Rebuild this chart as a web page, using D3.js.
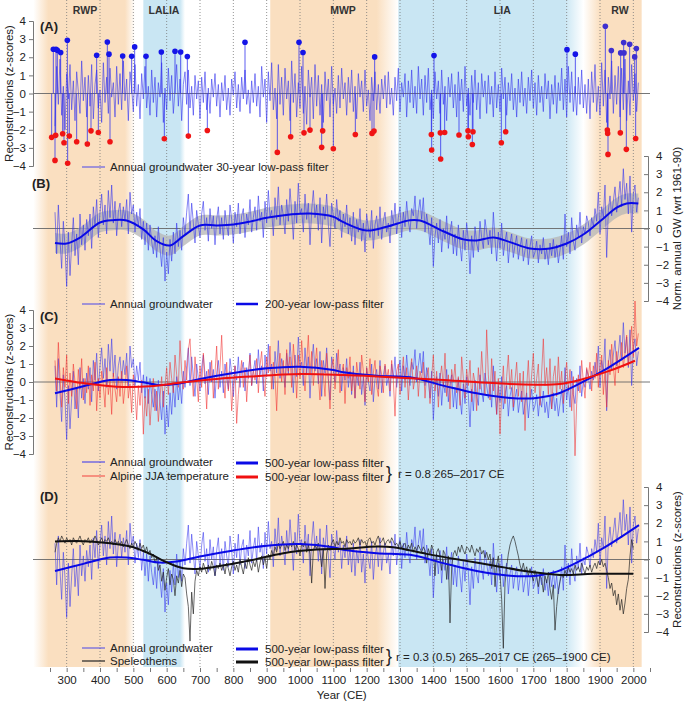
<!DOCTYPE html>
<html>
<head>
<meta charset="utf-8">
<script src="https://cdn.jsdelivr.net/npm/d3@7"></script>
<style>
body { margin: 0; background: #fff; }
svg { font-family: "Liberation Sans", Arial, sans-serif; }
</style>
</head>
<body>
<svg id="chart" width="685" height="704"></svg>
<script>
// ---- data ----
const years = d3.range(265, 2016, 5);      // annual series, sampled every 5 years
const spelYears = d3.range(265, 2001, 5);

// annual groundwater reconstruction (z-scores)
const gw = [
  [0.9, -1.4, 1.3, -0.6, -2.2, 0.4, -1.0, -3.2, -0.2, -2.6, -0.9, 0.6, -1.5, -0.3, -2.0, 0.8, -0.9, 0.2, -1.2, 0.5],
  [-0.4, 0.8, -1.1, 1.2, 0.1, 1.6, -0.5, 0.9, 1.9, 0.2, 1.3, -0.3, 2.1, 0.6, 2.4, 0.3, 1.5, -0.4, 0.9, 1.4],
  [0.1, 1.2, 0.4, 1.6, -0.3, 2.0, 0.8, 1.3, -0.2, 0.9, 0.1, 1.1, -0.6, 0.4, -0.9, 0.3, -1.2, 0.2, -0.7, -1.4],
  [-0.4, -1.6, 0.1, -1.1, -2.1, -0.5, -2.9, -1.3, -2.5, -0.6, -1.8, -0.2, -1.4, 0.3, -1.0, -0.1, -1.2, 0.6, -0.3, 0.9],
  [1.9, -0.2, 1.4, 0.3, -0.8, 1.0, 0.2, -0.5, 0.8, 1.5, -0.1, 0.6, -0.7, 1.1, 0.0, 0.7, -0.9, 0.5, 1.2, -0.3],
  [0.6, -0.6, 1.0, 0.2, -0.4, 1.3, 0.5, -0.8, 0.9, 0.1, 1.4, -0.3, 0.7, 1.1, -0.5, 0.8, 0.2, 1.6, -0.2, 0.6],
  [1.2, -0.1, 1.8, 0.4, 0.9, -0.5, 1.5, 0.3, 2.1, 0.6, 1.0, -0.4, 1.7, 0.5, 2.3, 0.2, 1.3, 0.7, -0.3, 1.6],
  [0.4, 2.2, 0.9, -0.6, 1.5, 0.3, 2.5, 0.8, 1.1, -0.2, 1.9, 0.5, 1.4, -0.9, 1.0, 2.1, 0.6, 1.3, -0.1, 1.7],
  [-0.8, 1.2, 0.5, 1.9, 0.2, -1.0, 1.4, 0.7, 0.0, 1.6, 0.4, 1.0, -0.5, 0.8, 0.1, 1.3, -0.3, 0.6, -0.7, 0.9],
  [-0.9, 0.5, -0.2, 1.1, -0.7, 0.3, -1.3, 0.8, 0.0, -0.5, 1.0, -1.1, 0.2, 0.7, -0.4, 1.2, -0.6, 0.4, 0.9, -0.2],
  [0.3, -0.8, 1.0, 0.2, 1.4, -0.3, 0.6, 1.2, -0.5, 0.9, 0.1, 1.5, 0.4, -0.2, 1.1, 0.7, 1.8, 0.0, 0.9, 1.6],
  [0.5, 1.7, -0.2, 0.8, 0.1, -0.9, 0.6, -2.1, -0.4, 0.3, -0.8, 0.5, -1.3, 0.0, -0.6, 0.7, -1.1, -0.2, 0.4, -1.4],
  [-0.3, -1.5, 0.2, -0.9, -1.8, -0.1, -1.2, 0.3, -0.7, -2.5, -0.4, -1.6, 0.1, -0.8, -1.3, 0.4, -0.5, -1.1, 0.5, -0.2],
  [-0.9, -0.1, -1.4, 0.9, -0.6, -1.8, -0.2, -1.1, 0.3, -1.5, -0.7, -0.2, -1.9, -0.8, -0.3, -1.6, -0.9, -0.4, -1.7, -1.0],
  [-0.5, -1.8, -1.2, -0.6, -2.0, -1.0, -0.4, -1.6, -1.3, -0.7, -1.9, -0.9, -1.4, -0.5, -1.7, -1.1, -2.0, -0.8, -1.5, -0.6],
  [-1.6, -0.9, -1.9, -1.2, -0.4, -1.7, 0.8, -1.0, -0.2, -1.4, 0.6, -0.7, -1.2, 0.2, -0.5, 0.9, -0.8, 0.1, -0.3, 0.7],
  [0.3, -0.4, 0.6, 0.1, 1.1, 0.4, 2.0, -0.3, 1.2, 0.6, 2.4, -1.6, 1.0, 1.8, 0.7, 1.5, 2.3, 0.9, 1.6, 2.6],
  [1.2, 3.3, 1.6, 2.5, 0.8, 2.9, -0.2, 1.9, 2.4, 0.9, 1.7]
].flat();

// groundwater after 30-year filtering (panel A)
const gwHp = [
  [-1.8, 1.5, -0.6, 1.9, -1.2, 0.4, -2.0, 1.1, -0.3, 1.6, -0.9, 0.7, -1.5, 1.2, 0.1, -1.1, 1.8, -0.4, 0.9, -1.3],
  [1.0, -0.7, 1.6, -1.4, 0.5, 1.3, -0.8, 0.2, -1.6, 1.7, -0.5, 0.9, -1.1, 1.4, -0.2, 0.6, -1.3, 1.5, -0.6, 1.1],
  [-0.9, 1.8, -0.4, 0.8, -1.5, 1.2, 0.3, -1.0, 1.6, -0.7, 0.5, -1.4, 1.1, -0.3, 1.5, -0.8, 0.4, -1.2, 1.3, -0.5],
  [0.9, -1.3, 0.6, -0.2, 1.7, -1.6, 0.3, -0.9, 1.4, -0.4, 1.0, -1.1, 0.2, 1.6, -0.7, 0.8, -1.5, 0.5, 1.2, -0.6],
  [1.3, -0.8, 0.4, -1.2, 1.0, -0.3, 0.7, -1.4, 0.9, -0.5, 1.2, -0.9, 0.3, -1.1, 0.8, -0.2, 1.1, -0.7, 0.5, -1.3],
  [0.6, -0.4, 1.0, -0.9, 0.3, -1.2, 0.8, -0.1, 1.2, -0.8, 0.5, -1.0, 0.9, -0.3, 1.3, -0.6, 0.2, -1.1, 0.7, -0.5],
  [1.1, -0.7, 0.4, -1.3, 1.5, -0.2, 0.8, -1.6, 1.2, -0.4, 1.7, -0.9, 0.3, -1.4, 1.6, -0.6, 0.9, -1.2, 1.4, -0.3],
  [0.7, -1.5, 1.8, -0.5, 1.1, -1.3, 0.6, -0.8, 1.5, -1.1, 0.4, -1.7, 1.3, -0.2, 0.9, -1.4, 1.6, -0.7, 1.0, -1.2],
  [0.5, -1.6, 1.2, -0.4, 0.8, -1.3, 1.5, -0.6, 0.3, -1.1, 1.0, -0.8, 1.4, -0.3, 0.6, -1.2, 0.9, -0.5, 1.3, -1.0],
  [0.4, -1.4, 1.1, -0.2, 0.7, -1.0, 1.3, -0.7, 0.2, -1.5, 0.9, -0.4, 1.2, -0.9, 0.5, -1.1, 0.8, -0.3, 1.0, -0.8],
  [1.2, -0.6, 0.3, -1.2, 0.9, -0.4, 1.4, -1.0, 0.6, -0.2, 1.1, -1.3, 0.7, -0.5, 1.3, -0.8, 0.4, -1.1, 1.5, -0.3],
  [0.8, -1.2, 1.0, -0.5, 1.4, -0.9, 0.2, -1.4, 1.2, -0.3, 0.7, -1.1, 1.3, -0.6, 0.4, -1.5, 0.9, -0.2, 1.1, -0.8],
  [0.5, -1.3, 1.2, -0.4, 0.8, -1.0, 1.5, -0.7, 0.3, -1.2, 1.0, -0.5, 1.3, -0.9, 0.6, -1.4, 1.1, -0.2, 0.7, -1.1],
  [1.0, -0.6, 0.4, -1.3, 1.2, -0.8, 0.5, -1.0, 1.4, -0.3, 0.9, -1.2, 0.6, -0.4, 1.1, -0.9, 0.3, -1.3, 0.8, -0.5],
  [1.2, -0.7, 0.3, -1.1, 0.9, -0.4, 1.3, -0.8, 0.6, -1.2, 1.0, -0.5, 0.4, -1.0, 1.1, -0.3, 0.7, -1.4, 0.5, -0.6],
  [1.0, -1.1, 0.6, -0.4, 1.4, -0.9, 0.8, -1.3, 1.5, -0.5, 1.2, -1.0, 0.4, -1.2, 0.9, -0.6, 1.3, -0.8, 0.5, -1.1],
  [0.8, -1.4, 1.2, -0.5, 1.6, -1.0, 0.4, -1.2, 1.7, -0.7, 1.3, -1.6, 0.9, -0.3, 1.8, -1.1, 1.0, -0.6, 1.5, -1.3],
  [1.4, -0.9, 1.9, -1.5, 0.7, -1.2, 1.6, -0.4, 1.1, -1.0, 0.6]
].flat();

// extremes in panel A
const highYears = [260, 268, 272, 282, 302, 390, 422, 427, 468, 495, 504, 538, 584, 625, 642, 662, 835, 997, 1009,
  1224, 1402, 1801, 1826, 1916, 1934, 1962, 1971, 1972, 1989, 2004, 2009];
const highVals = [2.44, 2.44, 2.38, 2.26, 2.94, 2.11, 2.84, 2.17, 2.07, 2.05, 2.57, 2.05, 2.29, 2.33, 2.29, 2.04, 2.83, 2.83, 2.26,
  2.02, 2.09, 2.42, 2.17, 3.71, 2.37, 2.24, 2.81, 2.24, 2.72, 2.02, 2.48];
const lowYears = [255, 265, 267, 288, 292, 303, 308, 330, 362, 373, 395, 430, 593, 665, 722, 932, 972, 1012, 1030, 1065, 1068, 1100,
  1166, 1216, 1222, 1394, 1395, 1421, 1422, 1434, 1477, 1504, 1505, 1517, 1519, 1604, 1617, 1922, 1923, 1924, 1961, 1979, 2007];
const lowVals = [-2.42, -3.69, -2.31, -2.22, -2.72, -3.85, -2.35, -2.66, -2.79, -2.06, -2.15, -2.66, -2.5, -2.35, -2.04, -3.25, -2.39, -2.17, -2.02, -2.97, -2.06, -3.05,
  -2.26, -2.2, -2.07, -2.26, -3.12, -2.17, -3.61, -2.15, -2.29, -2.06, -2.39, -2.81, -2.11, -2.72, -2.11, -2.02, -2.2, -3.36, -2.17, -3.08, -2.48];

// Alpine JJA temperature (z-scores)
const temp = [
  [1.2, -0.5, 2.2, 0.3, -1.4, 0.8, -0.3, 1.5, -1.2, 0.5, -0.8, 1.0, 0.0, -1.5, 0.7, -0.4, 1.3, -1.0, 0.2, -0.6],
  [0.9, -1.3, 0.4, -0.5, 1.1, -1.6, 0.2, -0.9, 0.6, -0.2, -1.4, 0.8, -0.7, 0.1, -1.8, 0.5, -0.4, -1.1, 0.3, -0.8],
  [0.6, -1.2, -0.3, 0.9, -0.9, -0.1, -1.7, 0.4, -0.6, -2.1, -0.2, -1.3, 0.1, -2.9, -0.8, -1.9, -0.4, -2.4, -1.0, 0.2],
  [-1.6, -0.5, -2.2, -0.9, 0.3, -1.4, -0.2, 0.8, -0.7, 1.1, 0.2, -0.6, 1.5, 0.4, -0.3, 2.3, 0.6, -0.4, 1.2, 0.1],
  [1.8, 2.4, 0.5, -0.8, 1.4, 0.2, -1.1, 0.9, -0.3, 1.6, 0.4, -1.5, 0.7, 0.0, 1.2, -0.9, 0.5, 2.0, -0.4, 0.8],
  [2.6, 0.3, -0.9, 1.1, -0.5, 0.6, -1.6, -0.2, 0.9, -2.3, -0.7, 0.4, 1.2, -0.3, 0.8, -1.1, 0.5, 1.5, -0.2, 0.7],
  [0.1, 1.3, -0.6, 0.9, 1.7, 0.2, -0.8, 1.4, 0.5, 2.0, -0.4, 1.1, 0.3, -1.6, 0.8, 1.6, 0.0, 1.2, -0.7, 1.8],
  [0.6, 1.4, -0.3, 2.1, 0.9, -0.9, 1.5, 0.2, 2.3, 0.7, -0.5, 1.1, 2.6, 0.4, 1.7, -0.2, 0.9, 1.9, 0.3, -1.0],
  [1.2, 0.4, -0.8, 1.6, 0.1, -1.5, 0.9, 1.3, -0.4, 0.7, 1.8, -0.6, 0.5, 1.0, -1.2, 0.8, 0.2, 1.4, -0.5, 0.6],
  [-0.9, 1.1, 0.3, -0.4, 1.5, 0.6, -1.1, 0.8, 0.0, 1.3, -0.7, 0.5, 1.2, -0.2, -0.8, 0.9, 0.4, -0.6, 1.0, 0.2],
  [0.7, -0.5, 1.2, 0.1, -1.9, 0.6, 1.0, -0.7, 0.3, 1.4, -0.3, 0.8, -1.0, 0.5, 1.3, -0.4, 0.2, 0.9, -0.8, 0.6],
  [0.1, 1.1, -0.9, 0.4, 0.8, -1.2, 0.3, 1.5, -0.5, 0.6, -1.4, 0.2, 0.9, -0.3, 1.6, -0.8, 0.4, -1.5, 0.7, 0.0],
  [1.0, -0.6, 0.3, -1.3, 1.4, 0.2, -0.9, 0.7, -0.2, 1.2, -1.1, 0.5, 0.0, -1.6, 0.8, -0.4, 1.7, 0.1, -0.7, 2.9],
  [0.4, -1.0, 1.3, -0.5, 0.6, -1.8, 0.2, -2.9, -0.6, 0.9, -1.2, 0.3, 1.5, -0.4, 0.7, -1.4, 0.1, 1.1, -0.8, 0.5],
  [-1.1, 0.6, -2.7, -0.3, 1.2, -0.9, 0.4, 1.6, -0.6, 0.2, 1.0, -1.3, 0.5, 2.4, -0.2, 0.8, -0.7, 1.3, -1.5, 0.3],
  [0.9, -0.8, 1.4, -0.4, 0.6, -1.2, 0.2, 1.1, -0.5, 0.7, -1.6, 0.3, -4.1, -1.2, 0.4, -0.6, 1.2, 0.0, -0.9, 0.8],
  [0.3, 1.1, -0.5, 0.9, 0.2, 1.6, -0.3, 0.8, 1.5, -0.7, 0.6, -1.4, 1.2, 0.4, 2.1, 0.9, -0.2, 1.7, 0.5, 1.3],
  [2.2, 0.8, 1.6, 2.6, 0.9, 1.9, 3.1, 1.4, 4.5, 2.0, 2.7]
].flat();

// speleothem record (z-scores)
const spel = [
  [0.4, 0.9, 1.2, 1.0, 1.3, 1.1, 0.9, 1.2, 1.0, 1.1, 0.8, 1.2, 1.0, 0.9, 1.1, 1.3, 1.0, 0.8, 1.1, 1.0],
  [1.2, 0.9, 1.1, 1.0, 1.3, 1.1, 0.8, 1.0, 1.2, 0.9, 1.1, 1.0, 1.2, 0.9, 1.0, 0.8, 1.1, 0.9, 1.0, 0.8],
  [1.0, 0.7, 0.9, 1.1, 0.8, 0.6, 0.9, 0.7, 1.0, 0.8, 0.5, 0.9, 0.6, 0.8, 0.4, 0.7, 0.3, 0.5, 0.1, 0.3],
  [-0.2, 0.1, -0.6, -0.3, -1.2, -0.7, -1.7, -1.0, -0.5, -1.4, -0.8, -1.1, -2.0, -0.9, -1.3, -0.6, -1.5, -0.8, -1.0, -1.9],
  [-2.6, -4.5, -1.8, -3.0, -1.2, -0.6, -0.9, -0.4, -0.7, -0.2, -0.5, -0.8, -0.3, -0.6, -0.1, -0.4, -0.9, -0.3, -0.5, -0.2],
  [-0.6, -0.3, -0.8, -0.2, -0.5, -0.9, -0.4, -0.1, -0.6, -0.3, -0.7, 0.0, -0.4, -0.8, -0.2, -0.5, 0.1, -0.3, -0.6, -0.1],
  [-0.4, 0.0, -0.7, -0.2, 0.2, -0.3, 0.1, -0.5, 0.3, 0.0, 0.5, 0.2, 0.7, 0.4, 0.9, 0.6, 0.8, 1.0, 0.5, 0.8],
  [0.6, 0.9, 0.7, 1.0, 0.5, 0.8, 0.6, 0.2, 0.9, 0.7, 1.0, 0.4, 0.8, 0.3, -1.3, 0.5, 0.8, 0.6, 0.9, 0.4],
  [-0.4, 0.6, -1.6, 0.3, 0.8, 0.5, 0.9, 1.1, 0.7, 1.0, 0.8, 1.2, 0.9, 1.0, 0.7, 1.1, 0.9, 1.0, 0.8, 1.1],
  [0.9, 1.0, 1.2, 0.8, 1.1, 0.9, 1.0, 0.7, 1.1, 1.2, 0.9, 1.0, 0.8, 1.1, 1.3, 0.9, 1.0, 1.2, 0.8, 1.0],
  [1.1, 0.9, 1.2, 1.0, 0.8, 0.9, 0.7, 1.0, 0.6, 0.8, 0.9, 0.5, 0.8, 0.6, 0.9, 0.4, 0.7, 0.5, 0.8, 0.6],
  [0.4, 0.7, 0.5, -0.2, 0.6, 0.3, 0.8, 0.5, -0.9, 0.4, 0.6, 0.2, -0.6, 0.5, 0.3, -1.1, 0.2, -3.5, -0.4, 0.3],
  [0.5, 0.2, 0.7, 0.4, 0.8, 0.5, 0.3, 0.7, 0.6, 0.4, 0.8, 0.5, 0.2, 0.6, 0.4, 0.7, 0.3, 0.5, 0.1, 0.4],
  [0.0, 0.3, -0.5, 0.1, -1.5, -0.3, 0.2, -0.8, -2.2, -4.9, -1.3, -0.4, 0.3, 0.8, 1.1, 1.3, 1.0, 0.6, 0.2, -0.3],
  [-0.6, -0.2, -0.7, -0.4, -0.9, -0.5, -0.8, -1.2, -0.6, -1.0, -1.5, -0.8, -1.1, -1.8, -0.9, -1.3, -0.7, -1.6, -2.2, -1.4],
  [-3.9, -2.6, -1.7, -1.2, -0.8, -1.0, -0.6, -0.9, -0.4, -0.7, -0.5, -0.8, -0.3, -0.6, -0.4, -0.7, -0.2, -0.5, -0.8, -0.4],
  [-0.6, -0.3, -0.7, -0.4, -0.2, -0.5, -0.1, -0.3, 0.0, -0.4, -0.2, -0.6, -1.0, -1.6, -1.3, -2.0, -1.7, -2.5, -1.9, -2.8],
  [-2.2, -3.0, -2.4, -1.6, -1.1, 0.2, 1.1, 0.6]
].flat();

// low-pass filtered curves
const f200Years = [265, 300, 340, 400, 440, 480, 530, 570, 610, 650, 700, 750, 800, 850, 900, 970, 1030, 1100, 1130, 1200, 1260, 1330, 1360, 1430, 1490, 1530, 1580, 1630, 1690, 1750, 1800, 1850, 1900, 1950, 1980, 2015];
const f200Vals = [-0.8, -0.83, -0.5, 0.33, 0.46, 0.44, -0.05, -0.7, -0.94, -0.42, 0.17, 0.17, 0.22, 0.38, 0.59, 0.77, 0.83, 0.65, 0.35, -0.11, 0.1, 0.46, 0.44, -0.15, -0.6, -0.66, -0.5, -0.75, -1.1, -1.1, -0.83, -0.33, 0.4, 1.15, 1.38, 1.38];
const f200Band = 0.55;

const gw500Years = [265, 350, 430, 480, 530, 580, 630, 700, 800, 900, 1000, 1100, 1130, 1230, 1330, 1430, 1530, 1630, 1710, 1770, 1830, 1910, 2017];
const gw500Vals = [-0.63, -0.24, 0.11, 0.11, -0.02, -0.17, -0.11, 0.17, 0.5, 0.76, 0.85, 0.67, 0.54, 0.35, 0.26, -0.2, -0.63, -0.89, -0.89, -0.67, -0.17, 0.63, 1.9];

const temp500Years = [265, 350, 450, 550, 650, 750, 850, 1000, 1130, 1230, 1430, 1630, 1780, 1850, 1930, 2005];
const temp500Vals = [0.2, -0.06, -0.26, -0.24, -0.02, 0.17, 0.3, 0.44, 0.39, 0.31, 0.11, -0.11, -0.11, 0.17, 0.63, 1.18];

const spel500Years = [265, 350, 430, 500, 550, 600, 650, 700, 750, 850, 950, 1050, 1130, 1230, 1280, 1380, 1480, 1580, 1680, 1780, 1880, 2000];
const spel500Vals = [0.99, 1.01, 0.9, 0.68, 0.31, -0.15, -0.48, -0.51, -0.39, -0.06, 0.35, 0.55, 0.59, 0.72, 0.68, 0.31, -0.02, -0.33, -0.65, -0.85, -0.79, -0.79];

// climate periods: fade-in start, full start, full end, fade-out end (years)
const periodNames = ['RWP', 'LALIA', 'MWP', 'LIA', 'RW'];
const periodKinds = ['warm', 'cold', 'warm', 'cold', 'warm'];
const periodEdges = [[200, 245, 475, 505], [530, 530, 640, 655], [910, 912, 1230, 1295], [1295, 1295, 1795, 1850], [1850, 1900, 2025, 2025]];
const periodLabelYears = [355, 592, 1129, 1607, 1960];

const yTicks = [-4, -3, -2, -1, 0, 1, 2, 3, 4];

// ---- chart ----
const svg = d3.select('#chart');
const x = d3.scaleLinear().domain([250, 2050]).range([50, 650]);
const yA = d3.scaleLinear().domain([-4, 4]).range([166, 21]);
const yB = d3.scaleLinear().domain([-4, 4]).range([301, 156]);
const yC = d3.scaleLinear().domain([-4, 4]).range([454, 310]);
const yD = d3.scaleLinear().domain([-4, 4]).range([632, 487]);

const bandColor = { warm: '#fadfc0', cold: '#c9e6f3' };
const defs = svg.append('defs');

periodNames.forEach((name, i) => {
    const [a, b, c, d] = periodEdges[i];
    const grad = defs.append('linearGradient').attr('id', 'band' + i)
        .attr('x1', '0%').attr('x2', '100%').attr('y1', '0%').attr('y2', '0%');
    [[a, 0], [b, 1], [c, 1], [d, 0]].forEach(([yr, op], k) => {
        grad.append('stop')
            .attr('offset', (yr - a) / (d - a))
            .attr('stop-color', bandColor[periodKinds[i]])
            .attr('stop-opacity', (k === 0 && a === b) || (k === 3 && c === d) ? 1 : op);
    });
    svg.append('rect')
        .attr('x', x(a)).attr('y', 0)
        .attr('width', x(d) - x(a)).attr('height', 667)
        .attr('fill', `url(#band${i})`);
});

// century grid
svg.append('g')
    .selectAll('line')
    .data(d3.range(300, 2001, 100))
    .enter()
    .append('line')
    .attr('x1', d => x(d)).attr('x2', d => x(d))
    .attr('y1', 0).attr('y2', 667)
    .attr('stroke', '#777')
    .attr('stroke-width', 0.8)
    .attr('stroke-dasharray', '1,2');

// period labels
svg.append('g')
    .selectAll('text')
    .data(periodNames)
    .enter()
    .append('text')
    .attr('x', (d, i) => x(periodLabelYears[i]))
    .attr('y', 14)
    .attr('text-anchor', 'middle')
    .style('font-size', '10.5px')
    .style('font-weight', 'bold')
    .attr('fill', '#333')
    .text(d => d);

// zero lines
[yA, yB, yC, yD].forEach(y => {
    svg.append('line')
        .attr('x1', 33).attr('x2', 650)
        .attr('y1', y(0)).attr('y2', y(0))
        .attr('stroke', '#666').attr('stroke-width', 0.9);
});

const pts = (xs, vs) => vs.map((v, i) => [xs[i], v]);
const lineOn = (y, curve) => d3.line().x(d => x(d[0])).y(d => y(d[1])).curve(curve || d3.curveLinear);

function drawPath(data, y, color, width, opacity, curve) {
    svg.append('path')
        .datum(data)
        .attr('fill', 'none')
        .attr('stroke', color)
        .attr('stroke-width', width)
        .attr('stroke-opacity', opacity)
        .attr('stroke-linejoin', 'round')
        .attr('d', lineOn(y, curve));
}

const noisyBlue = '#3434ee';
const filtBlue = '#0a0ae6';

// (A)
drawPath(pts(years, gwHp), yA, noisyBlue, 0.8, 0.75);
const stems = svg.append('g');
stems.selectAll('line.hi')
    .data(highYears)
    .enter().append('line')
    .attr('x1', d => x(d)).attr('x2', d => x(d))
    .attr('y1', yA(0)).attr('y2', (d, i) => yA(highVals[i]))
    .attr('stroke', noisyBlue).attr('stroke-width', 1).attr('stroke-opacity', 0.8);
stems.selectAll('line.lo')
    .data(lowYears)
    .enter().append('line')
    .attr('x1', d => x(d)).attr('x2', d => x(d))
    .attr('y1', yA(0)).attr('y2', (d, i) => yA(lowVals[i]))
    .attr('stroke', noisyBlue).attr('stroke-width', 1).attr('stroke-opacity', 0.8);
stems.selectAll('circle.hi')
    .data(highYears)
    .enter().append('circle')
    .attr('cx', d => x(d)).attr('cy', (d, i) => yA(highVals[i]))
    .attr('r', 2.8)
    .attr('fill', d => d > 1900 ? '#3d2fd0' : '#1414e8');
stems.selectAll('circle.lo')
    .data(lowYears)
    .enter().append('circle')
    .attr('cx', d => x(d)).attr('cy', (d, i) => yA(lowVals[i]))
    .attr('r', 2.8)
    .attr('fill', '#f01414');

// (B)
svg.append('path')
    .datum(pts(f200Years, f200Vals))
    .attr('fill', '#b4b4b4')
    .attr('fill-opacity', 0.75)
    .attr('d', d3.area().x(d => x(d[0])).y0(d => yB(d[1] - f200Band)).y1(d => yB(d[1] + f200Band)).curve(d3.curveCatmullRom));
drawPath(pts(years, gw), yB, noisyBlue, 0.8, 0.75);
drawPath(pts(f200Years, f200Vals), yB, filtBlue, 2, 1, d3.curveCatmullRom);

// (C)
drawPath(pts(years, gw), yC, noisyBlue, 0.8, 0.7);
drawPath(pts(years, temp), yC, '#f03030', 0.8, 0.7);
drawPath(pts(gw500Years, gw500Vals), yC, filtBlue, 2, 1, d3.curveCatmullRom);
drawPath(pts(temp500Years, temp500Vals), yC, '#f01010', 2, 1, d3.curveCatmullRom);

// (D)
drawPath(pts(years, gw), yD, noisyBlue, 0.8, 0.7);
drawPath(pts(spelYears, spel), yD, '#222', 0.8, 0.85);
drawPath(pts(gw500Years, gw500Vals), yD, filtBlue, 2, 1, d3.curveCatmullRom);
drawPath(pts(spel500Years, spel500Vals), yD, '#111', 2, 1, d3.curveCatmullRom);

// axes
function styleAxis(g) {
    g.selectAll('path, line').attr('stroke', '#777');
    g.selectAll('text').style('font-size', '11.5px').attr('fill', '#222');
}
[yA, yC].forEach(y => {
    svg.append('g')
        .attr('transform', 'translate(33,0)')
        .call(d3.axisLeft(y).tickValues(yTicks).tickSize(4).tickPadding(3).tickFormat(d3.format('d')))
        .call(styleAxis);
});
[yB, yD].forEach(y => {
    svg.append('g')
        .attr('transform', 'translate(648,0)')
        .call(d3.axisRight(y).tickValues(yTicks).tickSizeInner(-4).tickSizeOuter(-4).tickPadding(8).tickFormat(d3.format('d')))
        .call(styleAxis);
});

const xAxis = svg.append('g')
    .attr('transform', 'translate(0,668)')
    .call(d3.axisBottom(x).tickValues(d3.range(250, 2051, 50)).tickSize(4).tickPadding(4)
        .tickFormat(d => (d % 100 === 0 && d >= 300 && d <= 2000) ? d : ''))
    .call(styleAxis);
xAxis.select('.domain').remove();

function addText(tx, ty, str, opts) {
    const t = svg.append('text').attr('x', tx).attr('y', ty).text(str)
        .attr('fill', '#222').style('font-size', (opts && opts.size) || '11.5px');
    if (opts && opts.bold) t.style('font-weight', 'bold');
    if (opts && opts.anchor) t.attr('text-anchor', opts.anchor);
    if (opts && opts.rotate) t.attr('transform', `rotate(-90,${tx},${ty})`);
    return t;
}

addText(x(1125), 699, 'Year (CE)', { anchor: 'middle', size: '11.5px' });
addText(13, yA(0), 'Reconstructions (z-scores)', { anchor: 'middle', rotate: true, size: '11.5px' });
addText(13, yC(0), 'Reconstructions (z-scores)', { anchor: 'middle', rotate: true, size: '11.5px' });
addText(681, yB(0), 'Norm. annual GW (wrt 1961-90)', { anchor: 'middle', rotate: true, size: '11.5px' });
addText(681, yD(0), 'Reconstructions (z-scores)', { anchor: 'middle', rotate: true, size: '11.5px' });

addText(40, 31, '(A)', { bold: true, size: '13px' });
addText(32, 188, '(B)', { bold: true, size: '13px' });
addText(40, 321, '(C)', { bold: true, size: '13px' });
addText(40, 501, '(D)', { bold: true, size: '13px' });

// legends
function legLine(x1, x2, yy, color, width, opacity) {
    svg.append('line').attr('x1', x1).attr('x2', x2).attr('y1', yy).attr('y2', yy)
        .attr('stroke', color).attr('stroke-width', width).attr('stroke-opacity', opacity);
}
legLine(82, 105, 167, noisyBlue, 1.2, 0.75);
addText(110, 171, 'Annual groundwater  30-year low-pass filter');

legLine(82, 105, 304, noisyBlue, 1.2, 0.75);
addText(110, 308, 'Annual groundwater');
legLine(236, 258, 304, filtBlue, 2.5, 1);
addText(265, 308, '200-year low-pass filter');

legLine(82, 105, 462, noisyBlue, 1.2, 0.85);
addText(110, 466, 'Annual groundwater');
legLine(82, 105, 476, '#f03030', 1.2, 0.75);
addText(110, 480, 'Alpine JJA temperature');
legLine(236, 258, 463, filtBlue, 3, 1);
addText(265, 467, '500-year low-pass filter');
legLine(236, 258, 477, '#f01010', 3, 1);
addText(265, 481, '500-year low-pass filter');
addText(386, 479, '}', { size: '18px' });
addText(398, 478, 'r = 0.8  265\u20132017 CE');

legLine(82, 105, 648, noisyBlue, 1.2, 0.75);
addText(110, 652, 'Annual groundwater');
legLine(82, 105, 661, '#222', 1.2, 1);
addText(110, 665, 'Speleothems');
legLine(236, 258, 649, filtBlue, 3, 1);
addText(265, 653, '500-year low-pass filter');
legLine(236, 258, 662, '#111', 3, 1);
addText(265, 666, '500-year low-pass filter');
addText(386, 662, '}', { size: '18px' });
addText(396, 661, 'r = 0.3 (0.5) 265\u20132017 CE (265\u20131900 CE)');
</script>
</body>
</html>
